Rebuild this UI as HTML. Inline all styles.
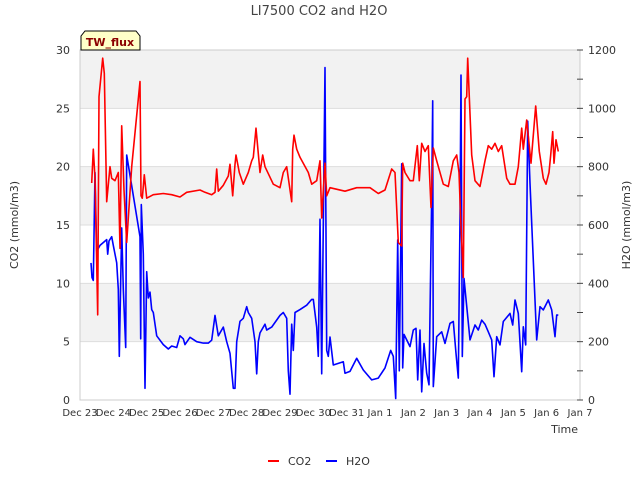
<!DOCTYPE html>
<html><head><meta charset="utf-8"><style>
body{margin:0;background:#fff;font-family:"Liberation Sans","DejaVu Sans",sans-serif}
svg text{font-family:"DejaVu Sans","Liberation Sans",sans-serif;fill:#333}
</style></head><body>
<svg id="chart" width="640" height="480" viewBox="0 0 640 480" xmlns="http://www.w3.org/2000/svg">
<text x="319" y="15" text-anchor="middle" font-size="13" style="fill:#444">LI7500 CO2 and H2O</text>
<g id="bands"></g>
<g id="grid"></g>
<rect x="80" y="50" width="500" height="350" fill="none" stroke="#ccc"/>
<g id="lines"></g>
<g id="axes"></g>
<text transform="translate(18,225) rotate(-90)" text-anchor="middle" font-size="11">CO2 (mmol/m3)</text>
<text transform="translate(630,225) rotate(-90)" text-anchor="middle" font-size="11">H2O (mmol/m3)</text>
<text x="578" y="433" text-anchor="end" font-size="11">Time</text>
<g>
<path d="M81,50 L81,36 L85,31 L136,31 L140,36 L140,50 Z" fill="#ffffc8" stroke="#000"/>
<text x="110" y="46" text-anchor="middle" font-size="11" font-weight="bold" style="fill:#8b0000">TW_flux</text>
</g>
<g>
<g><line x1="268" y1="461" x2="279" y2="461" stroke="#f00" stroke-width="2"/><text x="288" y="465" font-size="11">CO2</text></g>
<g><line x1="326" y1="461" x2="337" y2="461" stroke="#00f" stroke-width="2"/><text x="346" y="465" font-size="11">H2O</text></g>
</g>
</svg>
<script>
const xTickLabels=["Dec 23","Dec 24","Dec 25","Dec 26","Dec 27","Dec 28","Dec 29","Dec 30","Dec 31","Jan 1","Jan 2","Jan 3","Jan 4","Jan 5","Jan 6","Jan 7"];
const leftTicks=[0,5,10,15,20,25,30];
const rightTicks=[0,200,400,600,800,1000,1200];
const co2T=[0.35,0.4,0.45,0.53,0.57,0.68,0.73,0.8,0.9,0.95,1.05,1.15,1.2,1.25,1.32,1.4,1.55,1.8,1.83,1.87,1.93,2.0,2.2,2.5,2.75,3.0,3.2,3.6,3.75,3.95,4.05,4.1,4.15,4.3,4.45,4.5,4.58,4.65,4.68,4.78,4.9,5.05,5.15,5.2,5.28,5.4,5.48,5.55,5.8,6.0,6.1,6.2,6.35,6.38,6.42,6.5,6.6,6.85,6.95,7.1,7.2,7.25,7.35,7.4,7.5,7.95,8.3,8.7,8.95,9.15,9.35,9.45,9.55,9.65,9.68,9.75,9.9,10.0,10.12,10.18,10.25,10.35,10.45,10.53,10.6,10.7,10.9,11.05,11.2,11.3,11.37,11.42,11.5,11.55,11.6,11.63,11.75,11.85,12.0,12.15,12.25,12.35,12.45,12.55,12.65,12.8,12.9,13.05,13.15,13.25,13.3,13.4,13.47,13.53,13.67,13.78,13.9,13.98,14.07,14.12,14.18,14.22,14.28,14.35];
const co2V=[18.6,21.5,19,7.3,26,29.3,28,17,20,19,18.8,19.5,13,23.5,18,13.5,20,27.3,17.5,17.3,19.3,17.3,17.6,17.7,17.6,17.4,17.8,18,17.8,17.6,17.8,19.8,17.9,18.4,19.2,20.2,17.5,20.2,21,19.5,18.5,19.5,20.5,20.8,23.3,19.5,21,20,18.5,18.2,19.5,20,17,21.5,22.7,21.5,20.8,19.5,18.5,18.8,20.5,15.6,20.3,17.5,18.2,17.9,18.2,18.2,17.7,18,19.8,19.5,13.5,13.2,20.3,19.5,18.8,18.8,21.8,18.8,22,21.3,21.8,16.5,21.6,20.5,18.5,18.3,20.5,21,19.5,15.5,10.5,25.8,26,29.3,21,18.8,18.3,20.5,21.8,21.5,22,21.3,21.8,19,18.5,18.5,20,23.3,21.5,24,22,20.3,25.2,21.3,19,18.5,19.5,21,23,20.3,22.3,21.3];
const h2oT=[0.33,0.36,0.4,0.45,0.5,0.6,0.8,0.83,0.87,0.95,1.0,1.1,1.15,1.18,1.25,1.3,1.37,1.4,1.8,1.82,1.84,1.9,1.95,2.0,2.05,2.1,2.15,2.2,2.3,2.5,2.65,2.75,2.9,3.0,3.1,3.15,3.3,3.5,3.7,3.85,3.95,4.05,4.15,4.3,4.4,4.5,4.6,4.65,4.7,4.8,4.9,5.0,5.05,5.15,5.25,5.3,5.35,5.4,5.55,5.6,5.75,6.0,6.1,6.2,6.25,6.3,6.35,6.4,6.45,6.6,6.8,6.95,7.0,7.1,7.15,7.2,7.25,7.35,7.4,7.45,7.5,7.6,7.9,7.95,8.1,8.3,8.5,8.75,8.95,9.15,9.32,9.4,9.47,9.53,9.58,9.65,9.68,9.72,9.9,10.0,10.08,10.13,10.2,10.25,10.32,10.4,10.47,10.55,10.58,10.6,10.7,10.85,10.95,11.1,11.2,11.28,11.35,11.4,11.43,11.47,11.52,11.7,11.85,11.95,12.05,12.15,12.25,12.35,12.42,12.5,12.6,12.7,12.9,12.98,13.05,13.15,13.25,13.3,13.37,13.43,13.5,13.7,13.8,13.9,14.05,14.15,14.25,14.3,14.35];
const h2oV=[470,420,410,780,510,530,550,500,545,560,530,470,380,150,590,380,180,840,560,210,670,500,40,440,350,370,310,300,220,190,175,185,180,220,210,190,215,200,195,195,205,290,220,250,200,160,40,40,200,270,280,320,300,280,200,90,200,230,260,240,250,290,300,280,100,20,260,170,300,310,325,345,345,250,150,620,90,1140,170,150,216,120,131,92,98,143,103,69,75,110,170,150,5,549,100,810,110,225,183,240,246,69,240,28,194,92,52,700,1026,46,217,234,194,263,269,160,75,623,1114,149,417,206,257,240,274,260,234,206,80,217,189,269,297,257,343,297,97,251,189,956,743,206,320,309,343,309,217,291,291];
const X0=80,X1=580,Y0=400,Y1=50,NS="http://www.w3.org/2000/svg";
const xs=t=>X0+t*(X1-X0)/15;
const yl=v=>Y0-v*(Y0-Y1)/30;
const yr=v=>Y0-v*(Y0-Y1)/1200;
function mk(tag,at,parent){const e=document.createElementNS(NS,tag);for(const k in at)e.setAttribute(k,at[k]);parent.appendChild(e);return e;}
const bands=document.getElementById('bands'),grid=document.getElementById('grid'),axes=document.getElementById('axes'),lines=document.getElementById('lines');
for(let i=0;i<leftTicks.length-1;i++){
  if(i%2===1){const r=mk('rect',{x:X0,y:yl(leftTicks[i+1]),width:X1-X0,height:yl(leftTicks[i])-yl(leftTicks[i+1]),fill:'#f2f2f2'},bands);
  
  }
}
leftTicks.forEach(v=>{
  const g=mk('line',{x1:X0,x2:X1,y1:yl(v),y2:yl(v),stroke:'#ddd'},grid);
  
  
  const t=mk('text',{x:X0-10,y:yl(v)+4,'text-anchor':'end','font-size':'11'},axes);t.textContent=v;
  
  
});
rightTicks.forEach(v=>{
  const t=mk('text',{x:X1+8,y:yr(v)+4,'font-size':'11'},axes);t.textContent=v;
  
  
});
for(let v=0;v<=1200;v+=100){const tk=mk('line',{x1:X1-3,x2:X1+3,y1:yr(v),y2:yr(v),stroke:'#444'},axes);
  
  }
xTickLabels.forEach((s,i)=>{
  const t=mk('text',{x:xs(i),y:Y0+16,'text-anchor':'middle','font-size':'10'},axes);t.textContent=s;
  
  
});
const pc=co2T.map((t,i)=>xs(t).toFixed(1)+','+yl(co2V[i]).toFixed(1)).join(' ');
const ph=h2oT.map((t,i)=>xs(t).toFixed(1)+','+yr(h2oV[i]).toFixed(1)).join(' ');
const lh=mk('polyline',{points:ph,fill:'none',stroke:'#0000ff','stroke-width':'1.6','stroke-linejoin':'round'},lines);


const lc=mk('polyline',{points:pc,fill:'none',stroke:'#ff0000','stroke-width':'1.6','stroke-linejoin':'round'},lines);


</script>
</body></html>
